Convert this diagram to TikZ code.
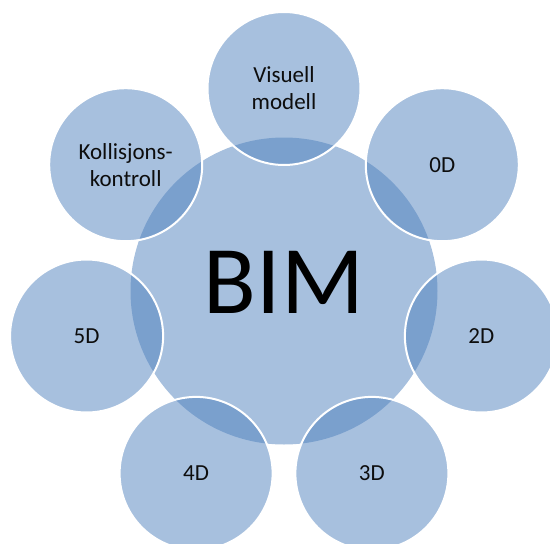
\documentclass[tikz,border=0pt]{standalone}
\usepackage{fontspec}
\setmainfont{Carlito}
\definecolor{bimblue}{RGB}{79,129,189}
\begin{document}
\begin{tikzpicture}[x=1pt,y=-1pt,
  hub/.style={circle, minimum size=307pt, inner sep=0pt, fill=bimblue,
    fill opacity=0.5, text opacity=1},
  part/.style={circle, minimum size=153pt, inner sep=0pt, fill=bimblue,
    fill opacity=0.5, draw=white, line width=2pt, text opacity=1,
    align=center, font=\fontsize{23}{27}\selectfont, text=black!95}]
  \useasboundingbox (0,0) rectangle (550,544);
  % central circle
  \node[hub] (bim) at (284,291) {};
  \node[font=\fontsize{97}{97}\selectfont, text=black] (bimtext) at (284,282) {BIM};
  % ring of seven aspects, radius 202.5 around the centre
  \node[part] (vis) at (284,88.5) {Visuell\\modell};
  \node[part] (d0)  at (442.3,164.7) {0D};
  \node[part] (d2)  at (481.4,336) {2D};
  \node[part] (d3)  at (371.9,473.4) {3D};
  \node[part] (d4)  at (196.1,473.4) {4D};
  \node[part] (d5)  at (86.6,336) {5D};
  \node[part] (kol) at (125.7,164.7) {Kollisjons-\\kontroll};
\end{tikzpicture}
\end{document}
